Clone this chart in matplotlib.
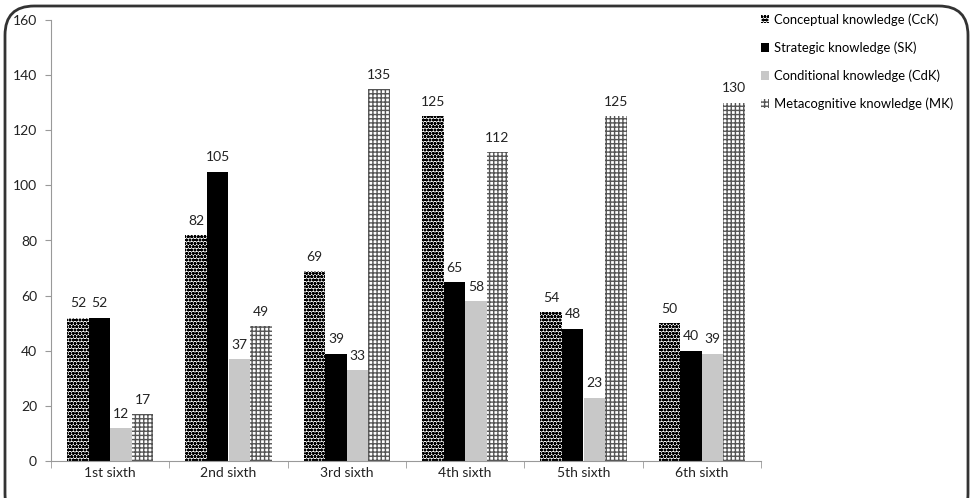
import matplotlib
matplotlib.use("Agg")
import matplotlib.pyplot as plt
import numpy as np
from matplotlib.patches import FancyBboxPatch, Patch

plt.rcParams['font.family'] = ['Lato', 'DejaVu Sans']
plt.rcParams['hatch.linewidth'] = 1.0

categories = ["1st sixth", "2nd sixth", "3rd sixth", "4th sixth", "5th sixth", "6th sixth"]
series_names = ["Conceptual knowledge (CcK)", "Strategic knowledge (SK)",
                "Conditional knowledge (CdK)", "Metacognitive knowledge (MK)"]
cck = [52, 82, 69, 125, 54, 50]
sk = [52, 105, 39, 65, 48, 40]
cdk = [12, 37, 33, 58, 23, 39]
mk = [17, 49, 135, 112, 125, 130]
yticks = [0, 20, 40, 60, 80, 100, 120, 140, 160]

fig = plt.figure(figsize=(9.73, 4.98), dpi=100)
ax = fig.add_axes([51/973, 1-461/498, (761-51)/973, (461-20)/498])

x = np.arange(len(categories))
w = 0.182
styles = [
    dict(facecolor="white", edgecolor="black", hatch="ooooo", linewidth=0),
    dict(facecolor="black", edgecolor="black", linewidth=0),
    dict(facecolor="#c8c8c8", edgecolor="#c8c8c8", linewidth=0),
    dict(facecolor="white", edgecolor="#555555", hatch="++++", linewidth=0),
]
data = [cck, sk, cdk, mk]
handles = []
for i, (vals, st) in enumerate(zip(data, styles)):
    bars = ax.bar(x + (i - 1.5) * w, vals, width=w, **st)
    for b, v in zip(bars, vals):
        ax.text(b.get_x() + b.get_width()/2, v + 3, str(v), ha="center", va="bottom",
                fontsize=10, color="#222222")
    handles.append(Patch(**st, label=series_names[i]))

ax.set_xlim(-0.5, len(categories) - 0.5)
ax.set_ylim(0, 160)
ax.set_yticks(yticks)
ax.set_xticks(x)
ax.set_xticklabels(categories)
ax.set_xticks(np.arange(len(categories) + 1) - 0.5, minor=True)
ax.tick_params(axis="x", which="major", length=0, pad=4, labelsize=10, colors="#222222")
ax.tick_params(axis="x", which="minor", length=5, color="#999999", direction="out")
ax.tick_params(axis="y", length=4, color="#999999", labelsize=10, colors="#222222", pad=6)
for s in ["top", "right"]:
    ax.spines[s].set_visible(False)
ax.spines["left"].set_color("#999999")
ax.spines["bottom"].set_color("#999999")

leg = fig.legend(handles=handles, loc="upper left", bbox_to_anchor=(761/973, 1-13/498),
                 frameon=False, fontsize=9.4, handlelength=0.65, handleheight=0.65,
                 handletextpad=0.35, labelspacing=1.2, borderpad=0, borderaxespad=0)

frame = FancyBboxPatch((5/973, -0.05), (968-5)/973, (495-3)/498 + 0.05,
                       boxstyle="round,pad=0,rounding_size=0.03",
                       transform=fig.transFigure, fill=False, edgecolor="#333333",
                       linewidth=2, mutation_aspect=973/498)
fig.patches.append(frame)

fig.savefig("out.png", dpi=100)
